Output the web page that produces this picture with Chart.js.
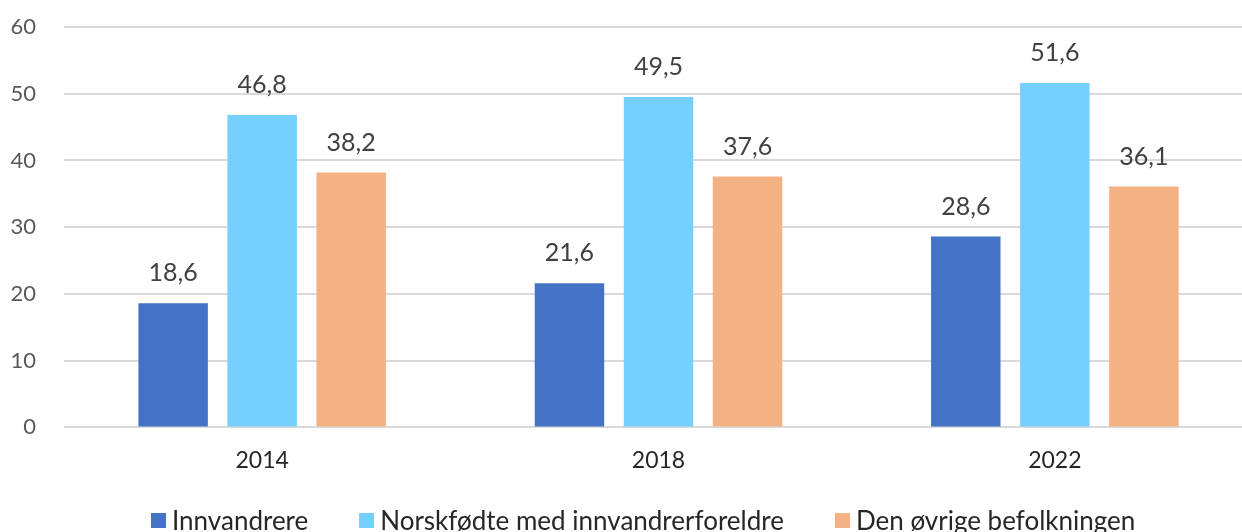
<!DOCTYPE html>
<html>
<head>
<meta charset="utf-8">
<script src="https://cdn.jsdelivr.net/npm/chart.js@4.4.1/dist/chart.umd.min.js"></script>
<style>
  html, body { margin: 0; padding: 0; background: #fff; overflow: hidden; }
  #wrap { position: relative; width: 1242px; height: 532px; overflow: hidden; }
  #chart { position: absolute; left: 0; top: 0; }
  #legend {
    position: absolute; left: 151px; top: 505px;
    display: flex; align-items: center; white-space: nowrap;
    font-family: Lato, "Open Sans", sans-serif; font-size: 26px; line-height: 30px; color: #262626;
  }
  #legend .item { display: flex; align-items: center; margin-right: 51px; }
  #legend .box { width: 15px; height: 15px; margin-right: 6px; }
</style>
</head>
<body>
<div id="wrap">
  <canvas id="chart" width="1253" height="532"></canvas>
  <div id="legend"></div>
</div>
<script>
const years = ['2014', '2018', '2022'];
const innvandrere = [18.6, 21.6, 28.6];
const norskfodte = [46.8, 49.5, 51.6];
const ovrige = [38.2, 37.6, 36.1];
const seriesNames = ['Innvandrere', 'Norskfødte med innvandrerforeldre', 'Den øvrige befolkningen'];
const seriesColors = ['#4472C4', '#75CFFF', '#F4B183'];

const FONT = 'Lato, "Open Sans", sans-serif';

// tall over søylene, med komma som desimaltegn
const barLabels = {
  id: 'barLabels',
  afterDatasetsDraw(chart) {
    const { ctx } = chart;
    ctx.save();
    ctx.font = '25px ' + FONT;
    ctx.fillStyle = '#404040';
    ctx.textAlign = 'center';
    ctx.textBaseline = 'middle';
    chart.data.datasets.forEach((ds, i) => {
      chart.getDatasetMeta(i).data.forEach((bar, j) => {
        const txt = ds.data[j].toFixed(1).replace('.', ',');
        ctx.fillText(txt, bar.x, bar.y - 30);
      });
    });
    ctx.restore();
  }
};

const chart = new Chart(document.getElementById('chart'), {
  type: 'bar',
  plugins: [barLabels],
  data: {
    labels: years,
    datasets: [
      { label: seriesNames[0], data: innvandrere, backgroundColor: seriesColors[0] },
      { label: seriesNames[1], data: norskfodte, backgroundColor: seriesColors[1] },
      { label: seriesNames[2], data: ovrige, backgroundColor: seriesColors[2] }
    ]
  },
  options: {
    responsive: false,
    animation: false,
    devicePixelRatio: 1,
    categoryPercentage: 0.674,
    barPercentage: 0.78,
    layout: { padding: { top: 27, right: 0, left: 0, bottom: 47 } },
    scales: {
      x: {
        grid: { display: false },
        border: { display: false },
        ticks: { color: '#262626', font: { family: FONT, size: 23 }, padding: 11 }
      },
      y: {
        min: 0,
        max: 60,
        ticks: { stepSize: 10, color: '#595959', font: { family: FONT, size: 22 }, padding: 0 },
        // usynlige tick-streker gir avstand mellom tall og rutenett
        grid: { color: '#d9d9d9', lineWidth: 2, drawTicks: true, tickLength: 28, tickColor: 'rgba(0,0,0,0)' },
        border: { display: false },
        afterFit(scale) { scale.width = 64; }
      }
    },
    plugins: {
      tooltip: { enabled: false },
      legend: { display: false }
    }
  }
});

// egen forklaring nederst
const legend = document.getElementById('legend');
chart.data.datasets.forEach(ds => {
  const item = document.createElement('div');
  item.className = 'item';
  const box = document.createElement('span');
  box.className = 'box';
  box.style.background = ds.backgroundColor;
  const txt = document.createElement('span');
  txt.textContent = ds.label;
  item.appendChild(box);
  item.appendChild(txt);
  legend.appendChild(item);
});
</script>
</body>
</html>
